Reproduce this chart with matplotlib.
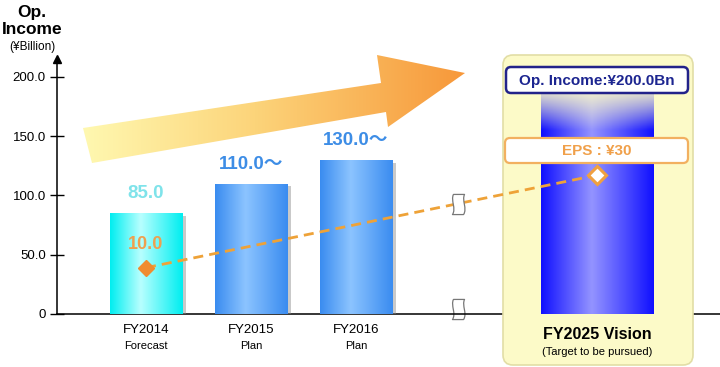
import numpy as np
import matplotlib
matplotlib.use("Agg")
import matplotlib.pyplot as plt
from matplotlib.patches import Polygon, FancyBboxPatch
from matplotlib.path import Path
from matplotlib.transforms import Affine2D
import matplotlib.patheffects as pe

plt.rcParams['font.family'] = ['Liberation Sans', 'Noto Sans CJK JP', 'DejaVu Sans']

# data
years = ['FY2014', 'FY2015', 'FY2016']
sub_labels = ['Forecast', 'Plan', 'Plan']
op_income = [85.0, 110.0, 130.0]
op_labels = ['85.0', '110.0〜', '130.0〜']
vision_income = 200.0
eps_start = 10.0
eps_vision = 30.0
yticks = [0, 50, 100, 150, 200]
ytick_labels = ['0', '50.0', '100.0', '150.0', '200.0']

# layout positions on the category axis
x_pos = [0, 1, 2]
x_vision = 4.3
x_break = 2.97

W, H = 720, 367
fig = plt.figure(figsize=(W / 100, H / 100), dpi=100)
# pixel transform, y measured from the top
px = Affine2D().scale(1, -1).translate(0, H).scale(1 / W, 1 / H) + fig.transFigure


def ramp(stops, n=128):
    t = np.linspace(0, 1, n)
    pos = [s[0] for s in stops]
    cols = [matplotlib.colors.to_rgb(s[1]) for s in stops]
    return np.stack([np.interp(t, pos, [c[i] for c in cols]) for i in range(3)], axis=-1)


def bar_grad(edge, center, peak=0.42):
    return ramp([(0, edge), (peak, center), (1, edge)])[None, :, :]


# background arrow
bg = fig.add_axes([0, 0, 1, 1])
bg.set_xlim(0, W)
bg.set_ylim(H, 0)
bg.axis('off')
arrow_pts = [(83, 128), (381, 83), (377, 55), (465, 73), (388, 127), (386, 112), (92, 163)]
arrow = Polygon(arrow_pts, closed=True, facecolor='none', edgecolor='none')
bg.add_patch(arrow)
arr_img = ramp([(0, '#fff8b0'), (0.45, '#fcd47a'), (1, '#f7983a')])[None, :, :]
im = bg.imshow(arr_img, extent=(83, 465, 163, 55), aspect='auto', interpolation='bicubic')
im.set_clip_path(arrow)
bg.set_xlim(0, W)
bg.set_ylim(H, 0)

# main axes
ax = fig.add_axes([57 / W, (H - 314) / H, (W - 57) / W, (314 - 59.2) / H])
ax.patch.set_alpha(0)
ax.set_xlim(-0.848, 5.467)
ax.set_ylim(0, 215)
ax.spines['top'].set_visible(False)
ax.spines['right'].set_visible(False)
ax.spines['left'].set_linewidth(1.1)
ax.spines['bottom'].set_linewidth(1.1)
ax.set_xticks([])
ax.set_yticks(yticks)
ax.set_yticklabels(ytick_labels)
ax.tick_params(axis='y', direction='inout', length=10, width=1, labelsize=9.5, pad=3)
ax.plot(0, 1, marker='^', color='black', markersize=6, transform=ax.transAxes, clip_on=False)

# vision panel
panel = FancyBboxPatch((503, 55), 190, 310, boxstyle='round,pad=0,rounding_size=10',
                       facecolor='#fcfac8', edgecolor='#e2dea6', lw=1.2,
                       transform=px, zorder=2.7, clip_on=False)
ax.add_patch(panel)

# bars
shadow = [pe.withSimplePatchShadow(offset=(3, -2), shadow_rgbFace='#888888', alpha=0.45)]
bar_cols = [('#00eef0', '#b8ffff'), ('#3a8cf0', '#8cc4ff'), ('#3a8cf0', '#8cc4ff')]
bars = ax.bar(x_pos, op_income, width=0.69, color=[c[0] for c in bar_cols],
              zorder=3, path_effects=shadow)
for b, (edge, center) in zip(bars, bar_cols):
    x0, w, h = b.get_x(), b.get_width(), b.get_height()
    im = ax.imshow(bar_grad(edge, center), extent=(x0, x0 + w, 0, h), aspect='auto',
                   interpolation='bicubic', zorder=3.1)
    im.set_clip_path(b)

vbar = ax.bar([x_vision], [vision_income], width=1.07, color='none', lw=0, zorder=3)[0]
x0, w = vbar.get_x(), vbar.get_width()
ny = 200
rgb = ramp([(0, '#1010ff'), (0.45, '#9494ff'), (1, '#1010ff')])
yy = np.linspace(0, vision_income, ny)
alpha = np.clip((193 - yy) / 38, 0, 1) ** 1.2
vimg = np.zeros((ny, rgb.shape[0], 4))
vimg[:, :, :3] = rgb[None, :, :]
vimg[:, :, 3] = alpha[:, None]
im = ax.imshow(vimg, extent=(x0, x0 + w, 0, vision_income), origin='lower', aspect='auto',
               interpolation='bicubic', zorder=3.1)
im.set_clip_path(vbar)
ax.set_xlim(-0.848, 5.467)
ax.set_ylim(0, 215)

# bar value labels
lab_cols = ['#7fe3ea', '#3d8de6', '#3d8de6']
for x, v, t, c in zip(x_pos, op_income, op_labels, lab_cols):
    ax.annotate(t, (x, v), xytext=(0, 14), textcoords='offset points', ha='center',
                va='center', fontsize=13.5, fontweight='bold', color=c, zorder=4)

# category labels
for x, yl, sl in zip(x_pos, years, sub_labels):
    ax.text(x, -0.063, yl, transform=ax.get_xaxis_transform(), ha='center', va='center',
            fontsize=9.5)
    ax.text(x, -0.126, sl, transform=ax.get_xaxis_transform(), ha='center', va='center',
            fontsize=8)
ax.text(x_vision, -0.079, 'FY2025 Vision', transform=ax.get_xaxis_transform(), ha='center',
        va='center', fontsize=11.5, fontweight='bold', zorder=4)
ax.text(x_vision, -0.149, '(Target to be pursued)', transform=ax.get_xaxis_transform(),
        ha='center', va='center', fontsize=8, zorder=4)

# op income box
ax.add_patch(FancyBboxPatch((506, 67), 182, 26, boxstyle='round,pad=0,rounding_size=5',
                            facecolor='white', edgecolor='#22228a', lw=1.8,
                            transform=px, zorder=5, clip_on=False))
ax.text(597, 80.5, 'Op. Income:¥200.0Bn', transform=px, ha='center', va='center',
        fontsize=11, fontweight='bold', color='#1c2590', zorder=6)

# break marks
brk = Path([(-0.25, 0.5), (0.3, 0.5), (0.15, 0.2), (0.45, -0.2), (0.25, -0.5),
            (-0.3, -0.5), (-0.1, -0.2), (-0.4, 0.2), (-0.25, 0.5), (-0.25, 0.5)],
           [Path.MOVETO, Path.LINETO, Path.CURVE4, Path.CURVE4, Path.CURVE4,
            Path.LINETO, Path.CURVE4, Path.CURVE4, Path.CURVE4, Path.CLOSEPOLY])
ax.plot(x_break, 4, marker=brk, markersize=14.5, markerfacecolor='white',
        markeredgecolor='#777777', markeredgewidth=0.9, zorder=2.4, clip_on=False)

# EPS on a hidden second scale
ax2 = ax.twinx()
ax2.set_ylim(0, 55)
ax2.axis('off')
ax2.plot([x_pos[0], x_vision], [eps_start, eps_vision], color='#eea238', lw=2,
         dashes=[3.6, 2.2], zorder=2)
y_brk = eps_start + (eps_vision - eps_start) * (x_break - x_pos[0]) / (x_vision - x_pos[0])
ax2.plot(x_break, y_brk, marker=brk, markersize=14.5, markerfacecolor='white',
         markeredgecolor='#777777', markeredgewidth=0.9, zorder=3)
ax2.plot(x_pos[0], eps_start, marker='D', markersize=8.5, color='#f08c30', zorder=4)
ax2.plot(x_vision, eps_vision, marker='D', markersize=9, markerfacecolor='white',
         markeredgecolor='#f0a040', markeredgewidth=2.2, zorder=4)
ax2.annotate('%.1f' % eps_start, (x_pos[0], eps_start), xytext=(0, 17),
             textcoords='offset points', ha='center', va='center', fontsize=13,
             fontweight='bold', color='#eea050', zorder=4)
ax2.add_patch(FancyBboxPatch((505, 138), 183, 25, boxstyle='round,pad=0,rounding_size=5',
                             facecolor='white', edgecolor='#f2b060', lw=1.6,
                             transform=px, zorder=5, clip_on=False))
ax2.text(597, 151, 'EPS : ¥%d' % eps_vision, transform=px, ha='center', va='center',
         fontsize=11, fontweight='bold', color='#f0a04a', zorder=6)

# axis title
fig.text(32 / W, 1 - 12 / H, 'Op.', ha='center', va='center', fontsize=12.5, fontweight='bold')
fig.text(32 / W, 1 - 30 / H, 'Income', ha='center', va='center', fontsize=12.5, fontweight='bold')
fig.text(32 / W, 1 - 47 / H, '(¥Billion)', ha='center', va='center', fontsize=8.5)

fig.savefig('out.png', dpi=100)
